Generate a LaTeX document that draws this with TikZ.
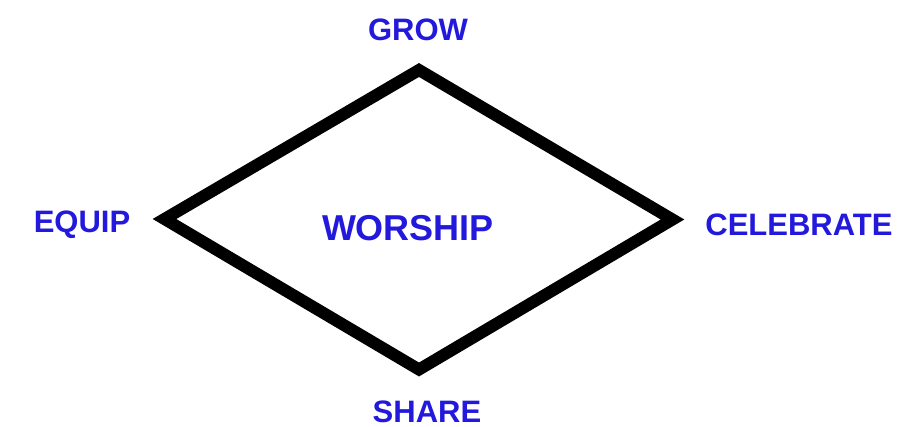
\documentclass[tikz,border=0pt]{standalone}
\usepackage{fontspec}
\setmainfont{Liberation Sans}
\definecolor{lbl}{HTML}{2219DD}
\begin{document}
\begin{tikzpicture}[x=1pt,y=-1pt,
  lab/.style={text=lbl,font=\bfseries\fontsize{31}{31}\selectfont,inner sep=0pt,anchor=base},
  big/.style={text=lbl,font=\bfseries\fontsize{36}{36}\selectfont,inner sep=0pt,anchor=base}]
\useasboundingbox[fill=white] (0,0) rectangle (921,426);
\coordinate (t) at (419,70);
\coordinate (l) at (164.5,219);
\coordinate (b) at (419,369.5);
\coordinate (r) at (672.5,219.5);
\draw[line width=12pt,line join=miter] (t) -- (r) -- (b) -- (l) -- cycle;
\node[lab] (grow) at (418,40) {GROW};
\node[lab] (equip) at (82,232) {EQUIP};
\node[lab] (celebrate) at (799,235) {CELEBRATE};
\node[lab] (share) at (427,422) {SHARE};
\node[big] (worship) at (408,240) {WORSHIP};
\end{tikzpicture}
\end{document}
